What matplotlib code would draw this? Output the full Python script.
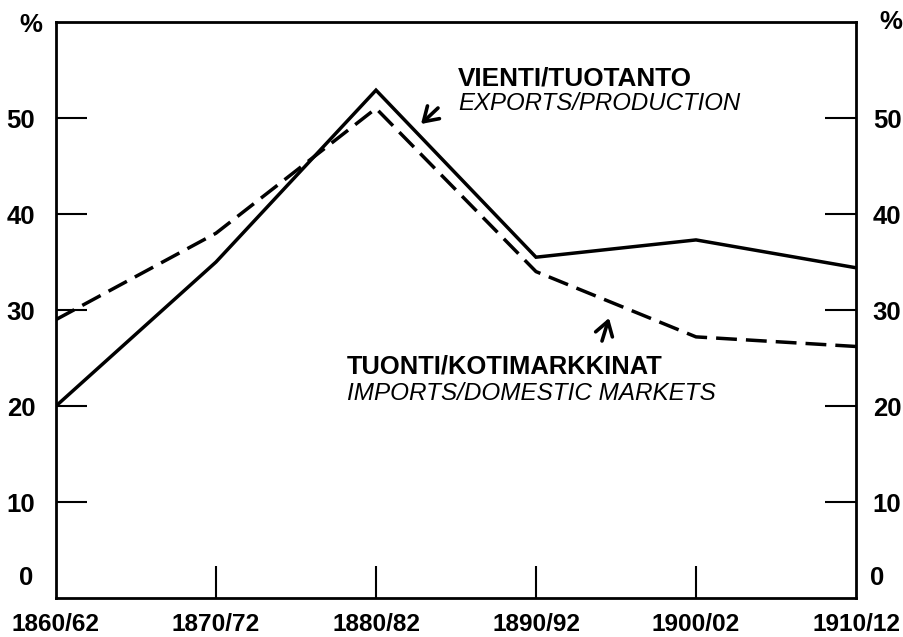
import matplotlib
matplotlib.use("Agg")
import matplotlib.pyplot as plt
import matplotlib.transforms as mtrans
from matplotlib.transforms import blended_transform_factory

periods = ["1860/62", "1870/72", "1880/82", "1890/92", "1900/02", "1910/12"]
exports_production = [20.0, 35.0, 52.9, 35.5, 37.3, 34.4]
imports_domestic = [29.0, 38.0, 51.0, 34.0, 27.2, 26.2]
y_ticks = [10, 20, 30, 40, 50]

plt.rcParams['font.family'] = ['Liberation Sans', 'DejaVu Sans']

fig = plt.figure(figsize=(9.04, 6.37), dpi=100)
ax = fig.add_axes([56/904, 39/637, (856-56)/904, (598-22)/637])
x = list(range(len(periods)))

ax.plot(x, exports_production, color='black', lw=2.5, solid_joinstyle='miter')
ax.plot(x, imports_domestic, color='black', lw=2.5, dashes=(6, 2.6))

ax.set_xlim(0, len(periods) - 1)
ax.set_ylim(0, 60)

for s in ax.spines.values():
    s.set_linewidth(2.0)

ax.set_xticks(x[1:-1])
ax.set_xticklabels([])
ax.tick_params(axis='x', direction='in', length=23, width=1.5)
ax.set_yticks(y_ticks)
ax.set_yticklabels([str(v) for v in y_ticks])
ax.tick_params(axis='y', direction='in', length=22, width=1.5, labelsize=18.5,
               pad=15, left=True, right=True, labelleft=True, labelright=True)
for t in ax.yaxis.get_major_ticks():
    t.label1.set_fontweight('bold')
    t.label2.set_fontweight('bold')
    t.label2.set_transform(t.label2.get_transform() +
                           mtrans.ScaledTranslation(-4/100, 0, fig.dpi_scale_trans))

# x labels
for xi, p in zip(x, periods):
    ax.text(xi, -0.046, p, transform=blended_transform_factory(ax.transData, ax.transAxes),
            ha='center', va='center', fontsize=17.6, fontweight='bold')

# zero labels slightly above axis
tb = blended_transform_factory(ax.transAxes, ax.transData)
ax.text(-0.028, 2.1, "0", transform=tb, ha='right', va='center', fontsize=18.5, fontweight='bold')
ax.text(1.017, 2.1, "0", transform=tb, ha='left', va='center', fontsize=18.5, fontweight='bold')

# percent signs
fig.text(31/904, 1 - 25/637, "%", ha='center', va='center', fontsize=18.5, fontweight='bold')
fig.text(891/904, 1 - 22/637, "%", ha='center', va='center', fontsize=18.5, fontweight='bold')

# annotations
fig.text(458/904, 1 - 78/637, "VIENTI/TUOTANTO", ha='left', va='center', fontsize=18.8, fontweight='bold')
fig.text(458/904, 1 - 104/637, "EXPORTS/PRODUCTION", ha='left', va='center', fontsize=17.3, style='italic')
fig.text(347/904, 1 - 367/637, "TUONTI/KOTIMARKKINAT", ha='left', va='center', fontsize=18.4, fontweight='bold')
fig.text(347/904, 1 - 393/637, "IMPORTS/DOMESTIC MARKETS", ha='left', va='center', fontsize=17.5, style='italic')

arrow_props = dict(arrowstyle='->,head_length=0.55,head_width=0.35', lw=2.6, color='black',
                   mutation_scale=18, shrinkA=0, shrinkB=0)
ax.annotate("", xy=(421/904, 1 - 124/637), xytext=(438/904, 1 - 108/637),
            xycoords='figure fraction', textcoords='figure fraction', arrowprops=arrow_props)
ax.annotate("", xy=(609/904, 1 - 318/637), xytext=(602/904, 1 - 341/637),
            xycoords='figure fraction', textcoords='figure fraction', arrowprops=arrow_props)

fig.savefig("out.png", dpi=100)
